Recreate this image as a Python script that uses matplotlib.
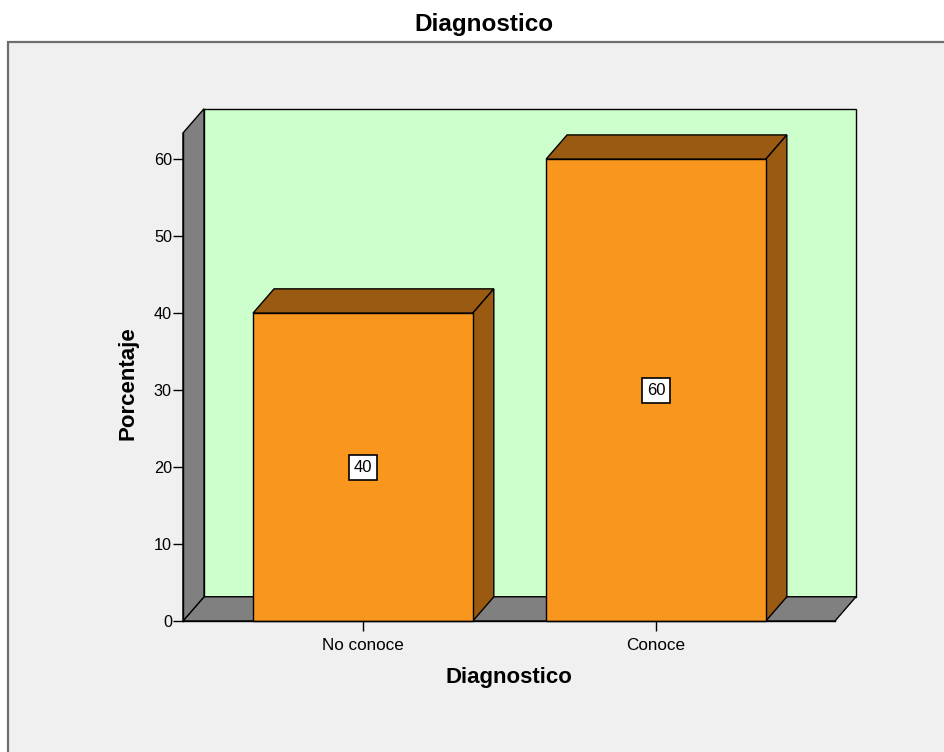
"""SPSS-style 3D bar chart: Diagnostico (porcentaje)."""

import matplotlib
matplotlib.use("Agg")
import matplotlib.pyplot as plt
from matplotlib.patches import Polygon, Rectangle

plt.rcParams["font.family"] = ["Liberation Sans", "DejaVu Sans"]

categories = ["No conoce", "Conoce"]
percentages = [40, 60]
yticks = [0, 10, 20, 30, 40, 50, 60]

FRONT = "#f8961e"
SHADE = "#9a5a12"
WALL = "#808080"
BACK = "#ccffcc"
PANEL = "#f0f0f0"

W, H = 945, 752
fig = plt.figure(figsize=(W / 100, H / 100), dpi=100)
fig.patch.set_facecolor("white")

# outer chart frame (behind the axes)
fig.patches.append(Rectangle((8 / W, -0.05), 1.2, 1 - 42 / H + 0.05,
                             transform=fig.transFigure, facecolor=PANEL,
                             edgecolor="#6e6e6e", linewidth=1.6, zorder=-10))

ax = fig.add_axes([183 / W, 1 - 621 / H, 652 / W, 488 / H])
ax.set_zorder(5)
ax.set_facecolor("none")

x0, x1 = -0.614, 1.611
ytop = 63.4
dx, dy = 0.0717, 3.15
bw = 0.75

ax.set_xlim(x0, x1)
ax.set_ylim(0, ytop)

kw = dict(edgecolor="black", linewidth=1.0, clip_on=False, joinstyle="miter")
ax.add_patch(Rectangle((x0 + dx, dy), x1 - x0, ytop, facecolor=BACK, zorder=1, **kw))
ax.add_patch(Polygon([(x0, 0), (x1, 0), (x1 + dx, dy), (x0 + dx, dy)],
                     facecolor=WALL, zorder=2, **kw))
ax.add_patch(Polygon([(x0, 0), (x0 + dx, dy), (x0 + dx, ytop + dy), (x0, ytop)],
                     facecolor=WALL, zorder=2, **kw))

for i, v in enumerate(percentages):
    l, r = i - bw / 2, i + bw / 2
    ax.add_patch(Polygon([(l, v), (r, v), (r + dx, v + dy), (l + dx, v + dy)],
                         facecolor=SHADE, zorder=3, **kw))
    ax.add_patch(Polygon([(r, 0), (r + dx, dy), (r + dx, v + dy), (r, v)],
                         facecolor=SHADE, zorder=3, **kw))
    ax.add_patch(Rectangle((l, 0), bw, v, facecolor=FRONT, zorder=4, **kw))
    ax.text(i, v / 2, f"{v}", ha="center", va="center", fontsize=12, zorder=5,
            bbox=dict(boxstyle="square,pad=0.3", facecolor="white",
                      edgecolor="black", linewidth=1.2))

for s in ("top", "right"):
    ax.spines[s].set_visible(False)
for s in ("left", "bottom"):
    ax.spines[s].set_zorder(6)
    ax.spines[s].set_linewidth(1.0)

ax.set_yticks(yticks)
ax.set_xticks(range(len(categories)))
ax.set_xticklabels(categories)
ax.tick_params(axis="y", length=7, width=1, labelsize=11.7, pad=1)
ax.tick_params(axis="x", length=7, width=1, labelsize=12.3, pad=5)

fig.text(484 / W, 1 - 25 / H, "Diagnostico", ha="center", va="center",
         fontsize=17.5, fontweight="bold")
fig.text(509 / W, 1 - 677 / H, "Diagnostico", ha="center", va="center",
         fontsize=16, fontweight="bold")
fig.text(128 / W, 1 - 383 / H, "Porcentaje", ha="center", va="center",
         rotation=90, fontsize=16, fontweight="bold")

fig.savefig("out.png", dpi=100)
